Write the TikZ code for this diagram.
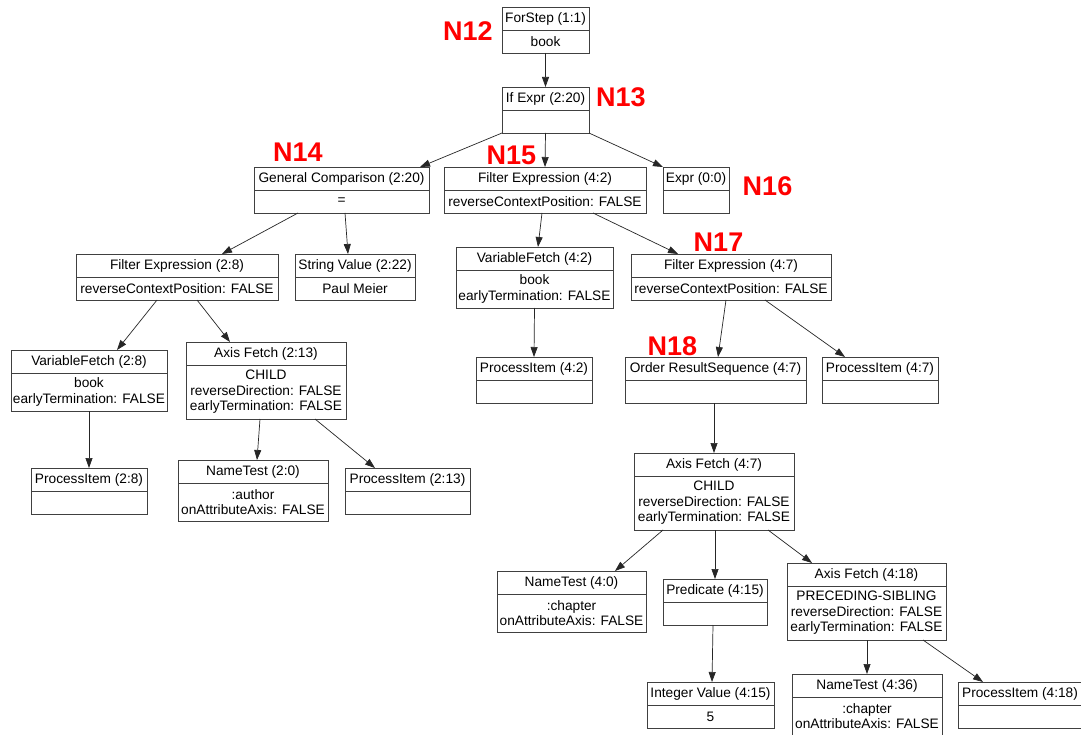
\documentclass[tikz,border=0pt]{standalone}
\usepackage{fontspec}
\setmainfont{Liberation Sans}
\usepackage{tikz}
\usetikzlibrary{positioning, arrows.meta}

\newcommand{\recfont}{\fontsize{13.7}{15.5}\selectfont}
\newcommand{\tagfont}{\fontsize{27}{30}\selectfont\bfseries}

\begin{document}
\begin{tikzpicture}[x=1pt, y=-1pt,
	hd/.style={draw=black!75, line width=0.8pt, minimum height=23pt, inner sep=0pt, outer sep=0pt, font=\recfont},
	bd/.style={hd, align=center},
	tag/.style={text=red, font=\tagfont, inner sep=0pt},
	arr/.style={-{Triangle[length=10pt,width=7pt]}, line width=0.7pt, draw=black!85}]
				\fill[white] (0,0) rectangle (1081,735);
				\useasboundingbox (0,0) rectangle (1081,735);
				
				% records
				\node[hd, minimum width=87pt] (forstep) at (545.5,18.5) {ForStep (1:1)};
				\node[bd, minimum width=87pt, below=0pt of forstep] (forstepB) {book};
				\node[hd, minimum width=87pt] (ifexpr) at (545.5,98.5) {If Expr (2:20)};
				\node[bd, minimum width=87pt, below=0pt of ifexpr] (ifexprB) {};
				
				\node[hd, minimum width=175pt] (gencomp) at (341.5,178.5) {General Comparison (2:20)};
				\node[bd, minimum width=175pt, below=0pt of gencomp] (gencompB) {=};
				\node[hd, minimum width=202pt] (filterA) at (545,178.5) {Filter Expression (4:2)};
				\node[bd, minimum width=202pt, below=0pt of filterA] (filterAB) {reverseContextPosition: FALSE};
				\node[hd, minimum width=66pt] (expr) at (696,178.5) {Expr (0:0)};
				\node[bd, minimum width=66pt, below=0pt of expr] (exprB) {};
				
				\node[hd, minimum width=202pt] (filterB) at (177,265.5) {Filter Expression (2:8)};
				\node[bd, minimum width=202pt, below=0pt of filterB] (filterBB) {reverseContextPosition: FALSE};
				\node[hd, minimum width=120pt] (strval) at (355,265.5) {String Value (2:22)};
				\node[bd, minimum width=120pt, below=0pt of strval] (strvalB) {Paul Meier};
				\node[hd, minimum width=157pt] (varA) at (534.5,258.5) {VariableFetch (4:2)};
				\node[bd, minimum width=157pt, minimum height=38pt, below=0pt of varA] (varAB) {book\\earlyTermination: FALSE};
				\node[hd, minimum width=200pt] (filterC) at (731,265.5) {Filter Expression (4:7)};
				\node[bd, minimum width=200pt, below=0pt of filterC] (filterCB) {reverseContextPosition: FALSE};
				
				\node[hd, minimum width=156pt] (varB) at (89,361.5) {VariableFetch (2:8)};
				\node[bd, minimum width=156pt, minimum height=38pt, below=0pt of varB] (varBB) {book\\earlyTermination: FALSE};
				\node[hd, minimum width=160pt] (axisA) at (266,353.5) {Axis Fetch (2:13)};
				\node[bd, minimum width=160pt, minimum height=54pt, below=0pt of axisA] (axisAB) {CHILD\\reverseDirection: FALSE\\earlyTermination: FALSE};
				\node[hd, minimum width=116pt] (procA) at (534,368.5) {ProcessItem (4:2)};
				\node[bd, minimum width=116pt, below=0pt of procA] (procAB) {};
				\node[hd, minimum width=181pt] (order) at (715.5,368.5) {Order ResultSequence (4:7)};
				\node[bd, minimum width=181pt, below=0pt of order] (orderB) {};
				\node[hd, minimum width=116pt] (procB) at (880,368.5) {ProcessItem (4:7)};
				\node[bd, minimum width=116pt, below=0pt of procB] (procBB) {};
				
				\node[hd, minimum width=116pt] (procC) at (89,479.5) {ProcessItem (2:8)};
				\node[bd, minimum width=116pt, below=0pt of procC] (procCB) {};
				\node[hd, minimum width=150pt] (ntestA) at (253,471.5) {NameTest (2:0)};
				\node[bd, minimum width=150pt, minimum height=38pt, below=0pt of ntestA] (ntestAB) {:author\\onAttributeAxis: FALSE};
				\node[hd, minimum width=125pt] (procD) at (407.5,479.5) {ProcessItem (2:13)};
				\node[bd, minimum width=125pt, below=0pt of procD] (procDB) {};
				\node[hd, minimum width=160pt] (axisB) at (714,464.5) {Axis Fetch (4:7)};
				\node[bd, minimum width=160pt, minimum height=54pt, below=0pt of axisB] (axisBB) {CHILD\\reverseDirection: FALSE\\earlyTermination: FALSE};
				
				\node[hd, minimum width=149pt] (ntestB) at (571.5,582.5) {NameTest (4:0)};
				\node[bd, minimum width=149pt, minimum height=38pt, below=0pt of ntestB] (ntestBB) {:chapter\\onAttributeAxis: FALSE};
				\node[hd, minimum width=104pt] (pred) at (715,590.5) {Predicate (4:15)};
				\node[bd, minimum width=104pt, below=0pt of pred] (predB) {};
				\node[hd, minimum width=159pt] (axisC) at (866.5,574.5) {Axis Fetch (4:18)};
				\node[bd, minimum width=159pt, minimum height=54pt, below=0pt of axisC] (axisCB) {PRECEDING-SIBLING\\reverseDirection: FALSE\\earlyTermination: FALSE};
				
				\node[hd, minimum width=127pt] (intval) at (710.5,693.5) {Integer Value (4:15)};
				\node[bd, minimum width=127pt, below=0pt of intval] (intvalB) {5};
				\node[hd, minimum width=150pt] (ntestC) at (867,685.5) {NameTest (4:36)};
				\node[bd, minimum width=150pt, minimum height=38pt, below=0pt of ntestC] (ntestCB) {:chapter\\onAttributeAxis: FALSE};
				\node[hd, minimum width=124pt] (procE) at (1020,693.5) {ProcessItem (4:18)};
				\node[bd, minimum width=124pt, below=0pt of procE] (procEB) {};
				
				% edges
				\draw[arr] (forstepB.south) -- (ifexpr.north);
				\draw[arr] (ifexprB.south west) -- ([xshift=-9pt]gencomp.north east);
				\draw[arr] (ifexprB.south) -- (filterA.north);
				\draw[arr] (ifexprB.south east) -- (expr.north west);
				\draw[arr] ([xshift=-43.5pt]gencompB.south) -- ([xshift=45pt]filterB.north);
				\draw[arr] ([xshift=3.5pt]gencompB.south) -- ([xshift=-7pt]strval.north);
				\draw[arr] ([xshift=-3pt]filterAB.south) -- ([xshift=3.5pt]varA.north);
				\draw[arr] ([xshift=48pt]filterAB.south) -- ([xshift=-53pt]filterC.north);
				\draw[arr] ([xshift=-20pt]filterBB.south) -- ([xshift=28pt]varB.north);
				\draw[arr] ([xshift=20pt]filterBB.south) -- ([xshift=-36pt]axisA.north);
				\draw[arr] (varAB.south) -- (procA.north);
				\draw[arr] ([xshift=-5pt]filterCB.south) -- ([xshift=2.5pt]order.north);
				\draw[arr] ([xshift=34pt]filterCB.south) -- ([xshift=-35pt]procB.north);
				\draw[arr] (varBB.south) -- (procC.north);
				\draw[arr] ([xshift=-6pt]axisAB.south) -- ([xshift=4pt]ntestA.north);
				\draw[arr] ([xshift=49pt]axisAB.south) -- ([xshift=-32.5pt]procD.north);
				\draw[arr] (orderB.south -| axisB.north) -- (axisB.north);
				\draw[arr] ([xshift=-51pt]axisBB.south) -- ([xshift=43.5pt]ntestB.north);
				\draw[arr] (axisBB.south -| pred.north) -- (pred.north);
				\draw[arr] ([xshift=54pt]axisBB.south) -- ([xshift=-54.5pt]axisC.north);
				\draw[arr] ([xshift=-2pt]predB.south) -- ([xshift=1.5pt]intval.north);
				\draw[arr] (axisCB.south -| ntestC.north) -- (ntestC.north);
				\draw[arr] ([xshift=56.5pt]axisCB.south) -- ([xshift=-37pt]procE.north);
				
				% red tags
				\node[tag] (t12) at (468,31) {N12};
				\node[tag] (t13) at (621,97.5) {N13};
				\node[tag] (t14) at (298,152) {N14};
				\node[tag] (t15) at (511.5,155) {N15};
				\node[tag] (t16) at (767.5,186.5) {N16};
				\node[tag] (t17) at (718.5,242) {N17};
				\node[tag] (t18) at (672.5,346) {N18};
\end{tikzpicture}
\end{document}
